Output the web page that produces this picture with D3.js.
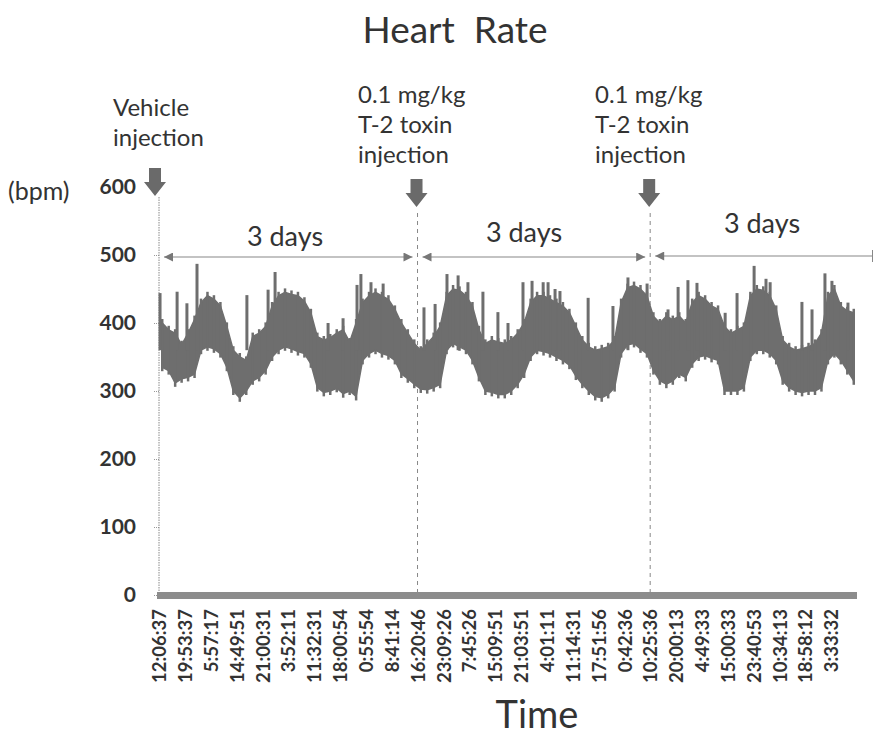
<!DOCTYPE html>
<html>
<head>
<meta charset="utf-8">
<script src="https://cdn.jsdelivr.net/npm/d3@7"></script>
<style>
  body { margin: 0; background: #fff; }
  text { font-family: Lato, "Open Sans", sans-serif; fill: #333; }
</style>
</head>
<body>
<div id="chart"></div>
<script>
// x tick labels (one every 4 samples)
var timeLabels = ["12:06:37", "19:53:37", "5:57:17", "14:49:51", "21:00:31", "3:52:11",
  "11:32:31", "18:00:54", "0:55:54", "8:41:14", "16:20:46", "23:09:26", "7:45:26",
  "15:09:51", "21:03:51", "4:01:11", "11:14:31", "17:51:56", "0:42:36", "10:25:36",
  "20:00:13", "4:49:33", "15:00:33", "23:40:53", "10:34:13", "18:58:12", "3:33:32"];

var yTicks = [0, 100, 200, 300, 400, 500, 600];

// heart rate band (bpm), 4 samples per tick label
var hrHigh = [400, 390, 385, 368, 385, 405, 430, 440, 435, 425, 395, 360, 350, 345, 380, 385,
  395, 425, 440, 445, 442, 440, 432, 415, 380, 375, 378, 385, 390, 372, 400, 430,
  440, 445, 440, 435, 420, 400, 385, 370, 360, 370, 380, 395, 440, 450, 448, 440,
  425, 390, 370, 375, 372, 370, 375, 385, 400, 430, 440, 440, 435, 430, 425, 415,
  395, 375, 365, 360, 362, 365, 375, 430, 452, 455, 450, 440, 410, 400, 410, 405,
  410, 400, 430, 440, 435, 425, 420, 395, 385, 390, 395, 440, 450, 448, 440, 420,
  375, 365, 360, 362, 365, 370, 385, 440, 450, 425, 418, 415];
var hrLow = [335, 330, 312, 318, 320, 325, 360, 365, 362, 355, 335, 300, 290, 300, 315, 320,
  330, 350, 360, 365, 362, 358, 355, 340, 305, 298, 300, 304, 296, 300, 292, 345,
  355, 360, 355, 352, 345, 325, 318, 310, 303, 302, 305, 310, 360, 370, 365, 360,
  345, 320, 300, 298, 295, 295, 300, 310, 325, 350, 360, 358, 355, 350, 345, 338,
  322, 310, 300, 292, 290, 295, 305, 355, 368, 370, 362, 355, 330, 315, 310, 315,
  325, 320, 340, 350, 352, 348, 345, 300, 300, 300, 305, 350, 360, 360, 355, 345,
  315, 305, 300, 298, 300, 300, 305, 345, 355, 345, 330, 315];

// narrow peaks: position (in tick-label units) and value (bpm)
var spikeAt = [0.04, 0.70, 1.08, 1.47, 3.40, 4.22, 4.49, 6.54, 7.12, 7.66, 7.81, 8.20, 8.67,
  10.25, 10.68, 11.14, 11.57, 11.95, 12.53, 13.11, 13.50, 14.08, 14.43, 14.86, 15.05,
  15.32, 15.51, 16.60, 17.56, 18.14, 18.88, 19.69, 20.08, 20.46, 20.81, 21.90, 22.36,
  23.02, 23.48, 23.64, 24.87, 25.26, 25.76, 26.03, 26.65];
var spikeVal = [444, 446, 429, 487, 441, 449, 475, 400, 407, 456, 472, 460, 458,
  423, 428, 472, 470, 460, 446, 416, 400, 460, 462, 460, 460,
  450, 447, 437, 425, 467, 458, 420, 453, 463, 459, 415, 444,
  484, 465, 460, 431, 420, 473, 462, 430];

// injections (tick-label units) and their notes
var injectAt = [0, 10, 19];
var injectNotes = [["Vehicle", "injection"],
  ["0.1 mg/kg", "T-2 toxin", "injection"],
  ["0.1 mg/kg", "T-2 toxin", "injection"]];
var periodLabel = ["3 days", "3 days", "3 days"];

var samplesPerLabel = 4;

var svgWidth = 874;
var svgHeight = 737;
var margin = { top: 187, right: 17, bottom: 142, left: 159 };
var width = svgWidth - margin.left - margin.right;
var height = svgHeight - margin.top - margin.bottom;

var svg = d3.select("#chart")
  .append("svg")
  .attr("width", svgWidth)
  .attr("height", svgHeight);

var defs = svg.append("defs");
defs.append("marker")
  .attr("id", "head")
  .attr("viewBox", "0 0 10 10")
  .attr("refX", 10).attr("refY", 5)
  .attr("markerWidth", 11).attr("markerHeight", 9)
  .attr("markerUnits", "userSpaceOnUse")
  .attr("orient", "auto-start-reverse")
  .append("path")
  .attr("d", "M0,0L10,5L0,10Z")
  .attr("fill", "#777");

var chartGroup = svg.append("g")
  .attr("transform", `translate(${margin.left}, ${margin.top})`);

var xScale = d3.scaleLinear().domain([0, timeLabels.length]).range([0, width]);
var yScale = d3.scaleLinear().domain([0, 600]).range([height, 0]);

// title
svg.append("text")
  .attr("x", 455).attr("y", 43)
  .attr("text-anchor", "middle")
  .attr("font-size", "37px")
  .attr("xml:space", "preserve")
  .text("Heart  Rate");

svg.append("text")
  .attr("x", 8).attr("y", 191)
  .attr("dy", "0.35em")
  .attr("font-size", "25px")
  .text("(bpm)");

// y axis
var leftAxis = d3.axisLeft(yScale).tickValues(yTicks).tickSize(5).tickPadding(18);
var yAxis = chartGroup.append("g").call(leftAxis);
yAxis.select(".domain").remove();
yAxis.selectAll("line").attr("stroke", "#999").attr("stroke-dasharray", "1,1");
yAxis.selectAll("text")
  .attr("font-size", "21px")
  .attr("font-weight", "bold")
  .style("fill", "#333");

// dashed vertical lines at injections
chartGroup.selectAll(".inj")
  .data(injectAt)
  .enter()
  .append("line")
  .attr("x1", d => xScale(d)).attr("x2", d => xScale(d))
  .attr("y1", (d, i) => i === 0 ? 10 : 26)
  .attr("y2", height)
  .attr("stroke", "#888")
  .attr("stroke-width", 1)
  .attr("stroke-dasharray", (d, i) => i === 0 ? "1.5,1" : "4,4");

// heart rate band
var bandData = hrHigh.map((h, i) => ({ t: (i + 0.5) / samplesPerLabel, hi: h, lo: hrLow[i] }));

var band = d3.area()
  .x(d => xScale(d.t))
  .y0(d => yScale(d.lo))
  .y1(d => yScale(d.hi))
  .curve(d3.curveLinear);

chartGroup.append("path")
  .datum(bandData)
  .attr("d", band)
  .attr("fill", "#6e6e6e")
  .attr("stroke", "#6e6e6e")
  .attr("stroke-width", 1.5);

// vertical strokes per sample give the ragged texture of the trace
chartGroup.selectAll(".tick-stroke")
  .data(bandData)
  .enter()
  .append("line")
  .attr("x1", d => xScale(d.t)).attr("x2", d => xScale(d.t))
  .attr("y1", d => yScale(d.hi) - 4)
  .attr("y2", d => yScale(d.lo) + 4)
  .attr("stroke", "#6e6e6e")
  .attr("stroke-width", 2.5);

// peaks
chartGroup.selectAll(".spike")
  .data(spikeAt)
  .enter()
  .append("line")
  .attr("x1", d => xScale(d)).attr("x2", d => xScale(d))
  .attr("y1", (d, i) => yScale(spikeVal[i]))
  .attr("y2", yScale(360))
  .attr("stroke", "#6e6e6e")
  .attr("stroke-width", 3);

// x axis: thick band of dense ticks
chartGroup.append("rect")
  .attr("x", -2).attr("y", height - 3)
  .attr("width", xScale(timeLabels.length) + 2).attr("height", 7)
  .attr("fill", "#8c8c8c");

var bottomAxis = d3.axisBottom(xScale)
  .tickValues(d3.range(timeLabels.length))
  .tickFormat(i => timeLabels[i])
  .tickSize(0);
var xAxis = chartGroup.append("g")
  .attr("transform", `translate(0, ${height + 14})`)
  .call(bottomAxis);
xAxis.select(".domain").remove();
xAxis.selectAll("text")
  .attr("transform", "rotate(-90)")
  .attr("text-anchor", "end")
  .attr("x", 0).attr("y", 0)
  .attr("dx", 0).attr("dy", "0.36em")
  .attr("font-size", "18.5px")
  .attr("font-weight", "bold")
  .style("fill", "#333");

svg.append("text")
  .attr("x", 537).attr("y", 728)
  .attr("text-anchor", "middle")
  .attr("font-size", "38px")
  .text("Time");

// injection arrows
var arrowTop = [168, 179, 179];
svg.selectAll(".bigArrow")
  .data(injectAt)
  .enter()
  .append("path")
  .attr("d", (d, i) => {
    var cx = margin.left + xScale(d) + (i === 0 ? -4 : -1);
    var t = arrowTop[i];
    return `M${cx - 6},${t}H${cx + 6}V${t + 14}H${cx + 11}L${cx},${t + 28}L${cx - 11},${t + 14}H${cx - 6}Z`;
  })
  .attr("fill", "#6a6a6a");

// injection notes
var noteX = [113, 358, 595];
var noteY = [116, 103, 103];
injectNotes.forEach(function(lines, i) {
  var t = svg.append("text")
    .attr("x", noteX[i]).attr("y", noteY[i])
    .attr("font-size", "24px");
  lines.forEach(function(s, j) {
    t.append("tspan").attr("x", noteX[i]).attr("dy", j === 0 ? 0 : 30).text(s);
  });
});

// 3 day spans
var spanEnd = [10, 19, timeLabels.length + 0.6];
var spanY = [257, 257, 256];
var spanTextY = [246, 242, 233];
injectAt.forEach(function(s, i) {
  var x1 = xScale(s) + 5;
  var x2 = xScale(spanEnd[i]) - (i < 2 ? 5 : 0);
  var ln = svg.append("line")
    .attr("x1", margin.left + x1).attr("x2", margin.left + x2)
    .attr("y1", spanY[i]).attr("y2", spanY[i])
    .attr("stroke", "#888")
    .attr("stroke-width", 1.2)
    .attr("marker-start", "url(#head)");
  if (i < 2) {
    ln.attr("marker-end", "url(#head)");
  } else {
    svg.append("line")
      .attr("x1", margin.left + x2).attr("x2", margin.left + x2)
      .attr("y1", spanY[i] - 6).attr("y2", spanY[i] + 6)
      .attr("stroke", "#888");
  }
  svg.append("text")
    .attr("x", [285, 524, 762][i]).attr("y", spanTextY[i])
    .attr("text-anchor", "middle")
    .attr("font-size", "27px")
    .text(periodLabel[i]);
});
</script>
</body>
</html>
